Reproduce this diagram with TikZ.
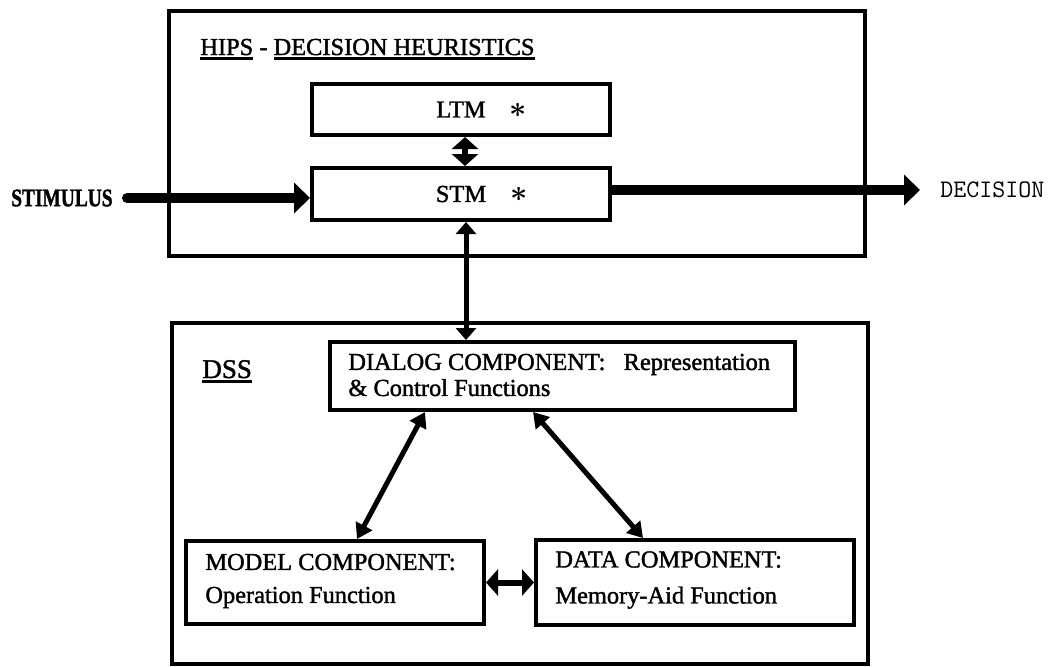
\documentclass[tikz,border=0pt]{standalone}
\usepackage{fontspec}
\usepackage{graphicx}
\setmainfont{Liberation Serif}[FakeBold=1.5]
\usetikzlibrary{arrows.meta,calc}

% thick underline used in the section titles
\newcommand\ulbar[1]{\setbox0\hbox{#1}\rlap{\rule[-2.6pt]{\wd0}{1.4pt}}\box0\relax}
% condensed heavy lettering for the input label
\newcommand\heavylabel[1]{\scalebox{0.77}[1]{\bfseries #1}}
% typewriter lettering for the output label
\newcommand\tw[1]{{\ttfamily #1}}
% bold centred star beside the memory names
\newcommand\memstar{\scalebox{1.25}{\boldmath$\ast$}}

\tikzset{
  frame/.style={draw, line width=2pt, inner sep=0pt, anchor=north west},
  unit/.style={draw, line width=2pt, inner sep=0pt, anchor=north west,
    font=\fontsize{12.2}{14}\selectfont},
  caption/.style={inner sep=0pt, anchor=base west, font=\fontsize{12.2}{14}\selectfont},
  body/.style={inner sep=0pt, anchor=west, align=left},
  outer/.style={inner sep=0pt, font=\fontsize{12.6}{15}\selectfont},
  heavy/.style={line width=5pt, -{Triangle[length=8pt,width=15pt]}},
  pair/.style={line width=3pt, {Triangle[length=6pt,width=13pt]}-{Triangle[length=6pt,width=13pt]}},
  link/.style={line width=2.5pt, {Triangle[length=6pt,width=10pt]}-{Triangle[length=6pt,width=10pt]}},
  diag/.style={line width=2.5pt, {Triangle[length=7.5pt,width=9pt]}-{Triangle[length=7.5pt,width=9pt]}},
}

\begin{document}
\begin{tikzpicture}[x=0.5pt, y=-0.5pt]
\useasboundingbox (0,0) rectangle (1049,666);

% ---------- HIPS block ----------
\node[frame, minimum width=348pt, minimum height=122.5pt] (hips) at (167,9) {};
\node[caption] (hipstitle) at (200,55) {\ulbar{HIPS} - \ulbar{DECISION HEURISTICS}};

\node[unit, minimum width=149pt, minimum height=25.5pt] (ltm) at (310,82)
  {\raisebox{-2.5pt}{LTM\rlap{\hspace{12pt}\memstar}}};
\node[unit, minimum width=149pt, minimum height=26pt] (stm) at (310,166)
  {\raisebox{-2.5pt}{STM\rlap{\hspace{12pt}\memstar}}};

\node[outer, anchor=east] (stim) at (113,198) {\heavylabel{STIMULUS}};
\node[outer, anchor=west] (decision) at (940,190) {\tw{DECISION}};

% ---------- DSS block ----------
\node[frame, minimum width=348pt, minimum height=170.5pt] (dss) at (170,321) {};
\node[caption, font=\fontsize{13.5}{15}\selectfont] (dsstitle) at (202,378) {\ulbar{DSS}};

\node[unit, minimum width=232.5pt, minimum height=34pt] (dialog) at (328,340) {};
\node[body, font=\fontsize{12.2}{13}\selectfont] (dialogtext) at (348,375)
  {DIALOG COMPONENT:\ \ \ Representation\\ \& Control Functions};

\node[unit, minimum width=149pt, minimum height=41.5pt] (model) at (184,539) {};
\node[body, font=\fontsize{12.2}{16.5}\selectfont] (modeltext) at (205,581)
  {MODEL COMPONENT:\\ Operation Function};

\node[unit, minimum width=159pt, minimum height=42.5pt] (data) at (534,538) {};
\node[body, font=\fontsize{12.2}{18}\selectfont] (datatext) at (555,580)
  {DATA COMPONENT:\\ Memory-Aid Function};

% ---------- connectors ----------
\draw[heavy, line cap=round] ($(stim.east)+(14,0)$) -- (stim.east -| stm.west);
\draw[heavy] (decision.west -| stm.east) -- ($(decision.west)+(-20,0)$);

\draw[pair] ($(ltm.south)+(4,0)$) -- ($(stm.north)+(4,0)$);

\coordinate (stmfoot) at ($(stm.south)+(5,0)$);
\draw[link] (stmfoot) -- (stmfoot |- dialog.north);

\coordinate (dlgL) at ($(dialog.south west)+(97,0)$);
\coordinate (dlgR) at ($(dialog.south west)+(205,0)$);
\draw[diag] (dlgL) -- ($(model.north west)+(173,0)$);
\draw[diag] (dlgR) -- ($(data.north west)+(109,0)$);

\draw[pair] (model.east) -- (model.east -| data.west);
\end{tikzpicture}
\end{document}
